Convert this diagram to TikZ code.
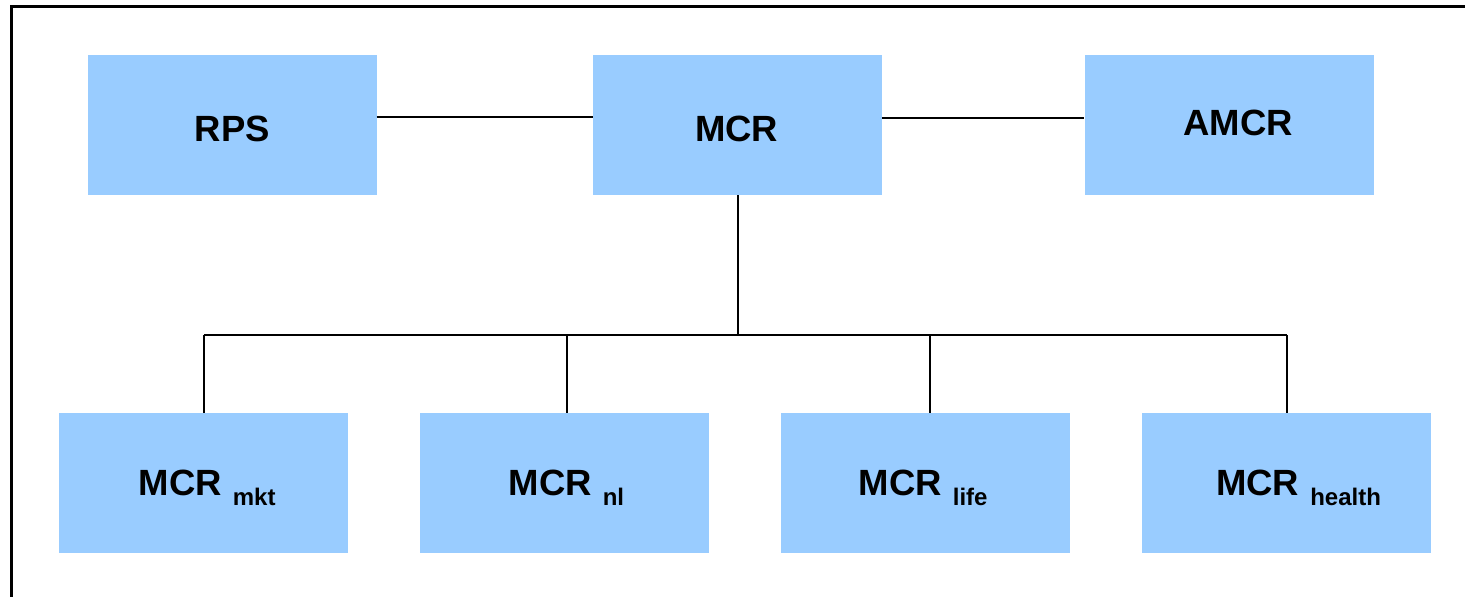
\documentclass[tikz,border=0pt]{standalone}
\usepackage{fontspec}
\setmainfont{Liberation Sans}
\usetikzlibrary{calc}
\definecolor{boxblue}{HTML}{99CCFF}
\tikzset{
  box/.style={fill=boxblue, draw=none, minimum width=289pt, minimum height=140pt, inner sep=0pt},
  lbl/.style={anchor=base, inner sep=0pt, font=\fontsize{36.5}{40}\selectfont\bfseries},
  sublbl/.style={anchor=base west, inner sep=0pt, font=\fontsize{36.5}{40}\selectfont\bfseries},
  conn/.style={draw=black, line width=1.9pt},
  frameline/.style={draw=black, line width=3pt}
}
\newcommand{\mysub}[1]{\hspace{11pt}\raisebox{-10pt}{\fontsize{24}{26}\selectfont\bfseries #1}}
\begin{document}
\begin{tikzpicture}[x=1pt,y=-1pt]
\useasboundingbox (0,0) rectangle (1465,597);
% frame (cropped: only top and left visible)
\coordinate (fbl) at (11,597);
\coordinate (ftl) at (11,6.5);
\coordinate (ftr) at (1465,6.5);
\draw[frameline] (fbl) -- (ftl) -- (ftr);
% top boxes
\node[box] (rps) at (232,125) {};
\node[box] (mcr) at (737.5,125) {};
\node[box] (amcr) at (1229,125) {};
\node[lbl] (trps) at (232.5,141.7) {RPS};
\node[lbl] (tmcr) at (736.7,141.7) {MCR};
\node[lbl] (tamcr) at (1238,135) {AMCR};
% bottom boxes
\node[box] (mkt) at (203,483) {};
\node[box] (nl) at (564,483) {};
\node[box] (life) at (925,483) {};
\node[box] (health) at (1286,483) {};
\node[sublbl] (tmkt) at (138.5,495) {MCR\mysub{mkt}};
\node[sublbl] (tnl) at (508.5,495) {MCR\mysub{nl}};
\node[sublbl] (tlife) at (858.5,495) {MCR\mysub{life}};
\node[sublbl] (thealth) at (1216,495) {MCR\mysub{health}};
% connectors
\draw[conn] (rps.east |- 0,117) -- (mcr.west |- 0,117);
\draw[conn] (mcr.east |- 0,118) -- (amcr.west |- 0,118);
\coordinate (bus) at (738,335);
\draw[conn] (mcr.south -| bus) -- (bus);
\draw[conn] (204,335) -- (1287,335);
\draw[conn] (204,335) -- (mkt.north -| 204,0);
\draw[conn] (567,335) -- (nl.north -| 567,0);
\draw[conn] (930,335) -- (life.north -| 930,0);
\draw[conn] (1287,335) -- (health.north -| 1287,0);
\end{tikzpicture}
\end{document}
